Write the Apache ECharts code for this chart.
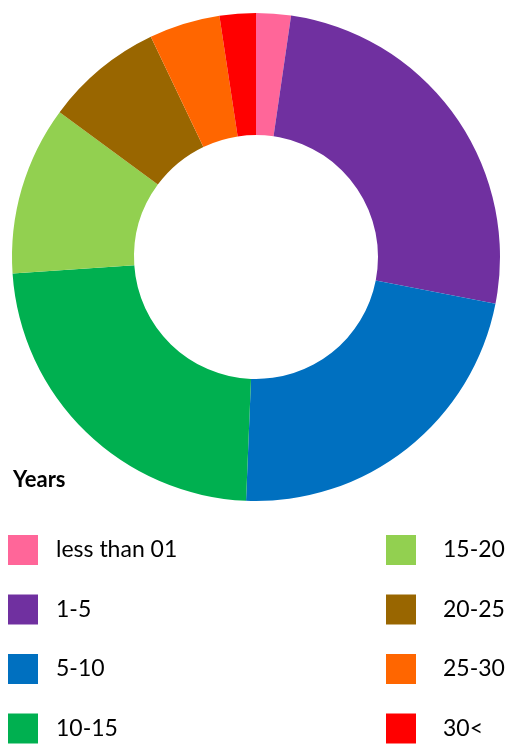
<!DOCTYPE html>
<html>
<head>
<meta charset="utf-8">
<script src="https://cdn.jsdelivr.net/npm/echarts@6/dist/echarts.min.js"></script>
<style>
html,body{margin:0;padding:0;background:#fff;}
#chart{width:505px;height:751px;}
</style>
</head>
<body>
<div id="chart"></div>
<script>
var categories = ['less than 01','1-5','5-10','10-15','15-20','20-25','25-30','30<'];
var values = [2.3, 25.8, 22.6, 23.3, 11.2, 7.8, 4.7, 2.4];
var colors = ['#FF6699','#7030A0','#0070C0','#00B050','#92D050','#996600','#FF6600','#FF0000'];
var legendTitle = 'Years';

var FONT = 'Lato';
var chart = echarts.init(document.getElementById('chart'), null, {renderer:'canvas'});
var data = categories.map(function(c,i){return {name:c, value:values[i], itemStyle:{color:colors[i]}};});
function legend(names, left, gap){
  return {
    data: names, orient:'vertical', left:left, top:535, height:216, padding:0,
    itemWidth:30, itemHeight:30, itemGap:29.5, icon:'rect',
    selectedMode:false,
    textStyle:{fontFamily:FONT, fontSize:23, color:'#000', padding:[2,0,0,gap]}
  };
}
chart.setOption({
  animation:false,
  title:{text:legendTitle, left:13, top:469, padding:0, textStyle:{fontFamily:FONT, fontSize:22, fontWeight:'bold', color:'#000'}},
  legend:[legend(categories.slice(0,4), 8, 13), legend(categories.slice(4), 386, 22)],
  series:[{
    type:'pie', center:[256,257], radius:[122,244], startAngle:90, clockwise:true,
    label:{show:false}, labelLine:{show:false}, silent:true,
    itemStyle:{borderWidth:0},
    data:data
  }]
});
</script>
</body>
</html>
